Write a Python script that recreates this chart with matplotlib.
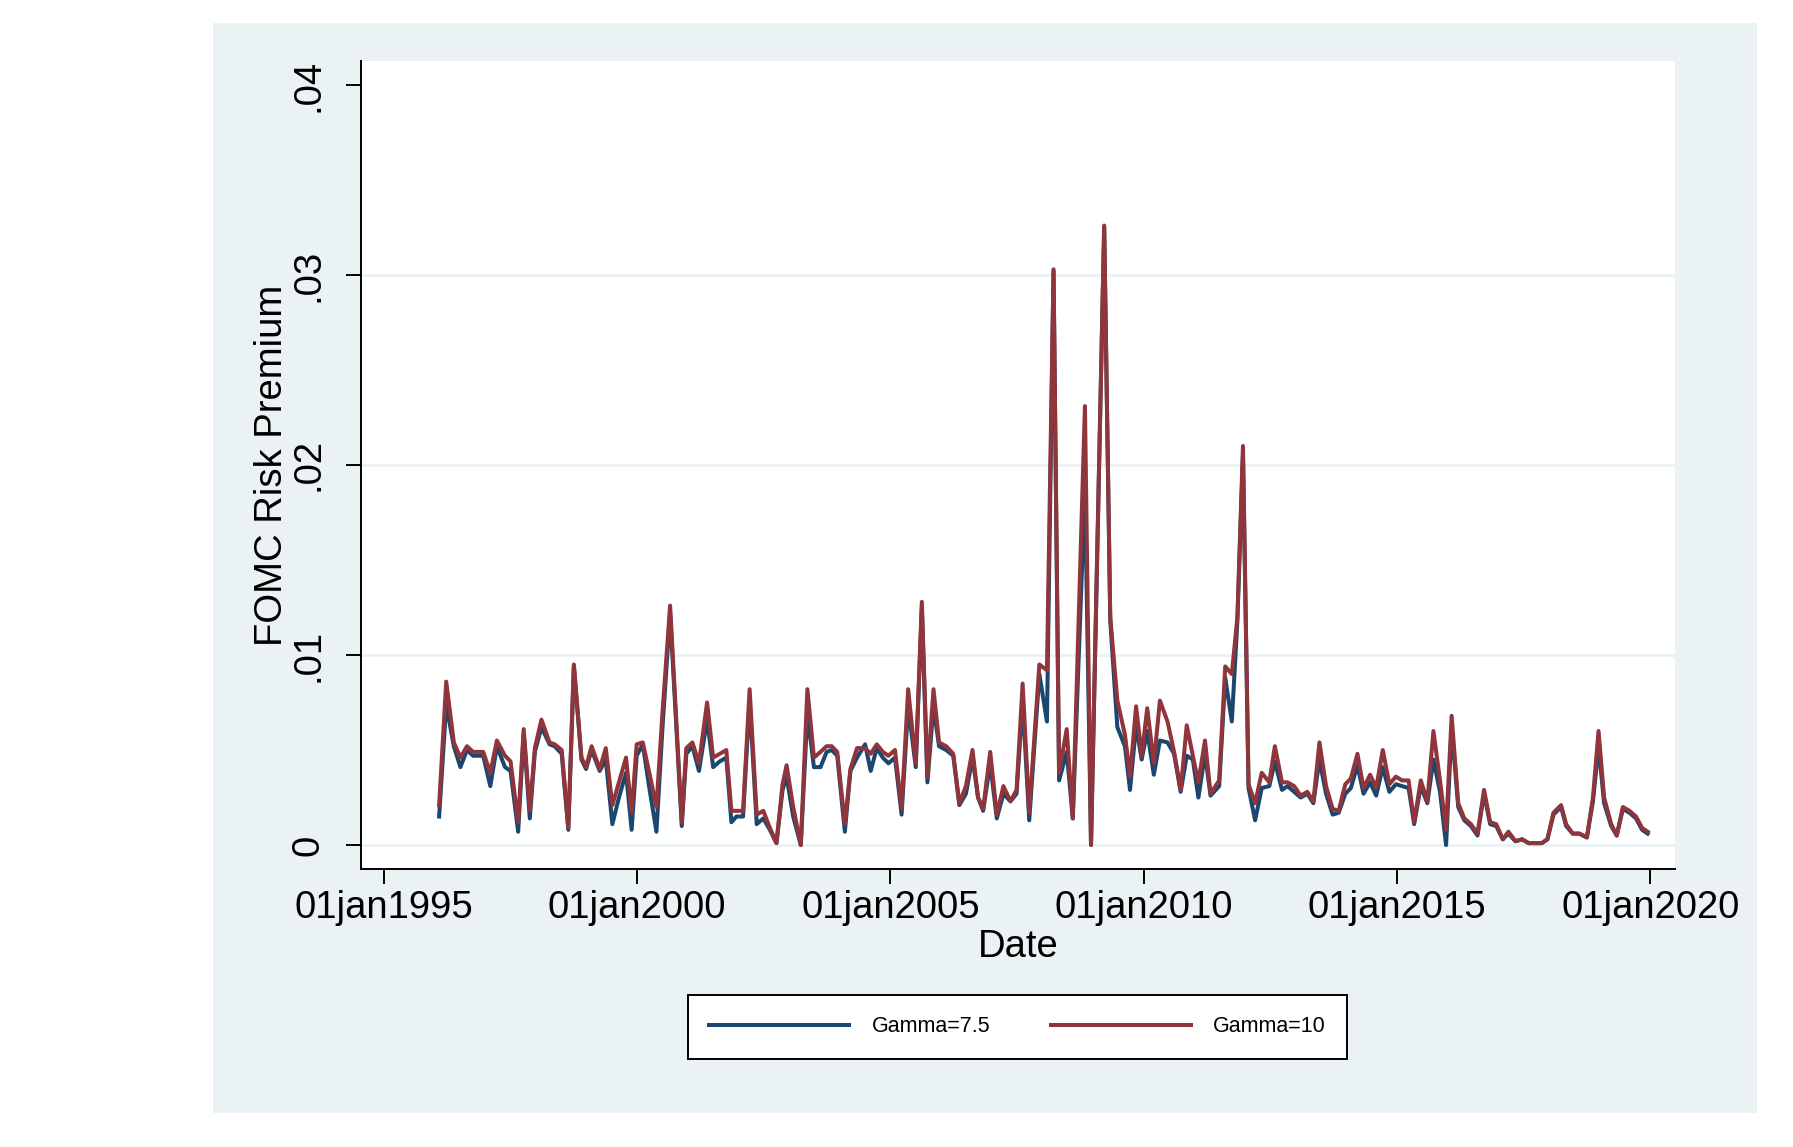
import matplotlib
matplotlib.use("Agg")
import matplotlib.pyplot as plt
from matplotlib.patches import Rectangle

plt.rcParams["font.family"] = ["Liberation Sans", "DejaVu Sans"]

# FOMC meeting dates (decimal years)
dates = [
    1996.09, 1996.23, 1996.38, 1996.51, 1996.64, 1996.76, 1996.84, 1996.96,
    1997.10, 1997.23, 1997.39, 1997.50, 1997.65, 1997.76, 1997.88, 1997.98,
    1998.11, 1998.27, 1998.37, 1998.51, 1998.64, 1998.75, 1998.90, 1998.99,
    1999.10, 1999.26, 1999.38, 1999.51, 1999.64, 1999.78, 1999.89, 1999.99,
    2000.11, 2000.24, 2000.38, 2000.50, 2000.65, 2000.88, 2000.97,
    2001.09, 2001.22, 2001.38, 2001.50, 2001.63, 2001.76, 2001.86, 2001.96,
    2002.09, 2002.22, 2002.36, 2002.49, 2002.62, 2002.75, 2002.87, 2002.95,
    2003.08, 2003.23, 2003.36, 2003.49, 2003.62, 2003.74, 2003.84, 2003.95,
    2004.10, 2004.21, 2004.34, 2004.50, 2004.61, 2004.73, 2004.85, 2004.96,
    2005.09, 2005.22, 2005.35, 2005.50, 2005.62, 2005.73, 2005.85, 2005.96,
    2006.10, 2006.24, 2006.36, 2006.49, 2006.62, 2006.73, 2006.83, 2006.97,
    2007.10, 2007.23, 2007.37, 2007.49, 2007.61, 2007.74, 2007.94,
    2008.09, 2008.22, 2008.33, 2008.48, 2008.60, 2008.84, 2008.96,
    2009.22, 2009.34, 2009.48, 2009.63, 2009.73, 2009.85, 2009.96,
    2010.07, 2010.20, 2010.32, 2010.47, 2010.60, 2010.73, 2010.85, 2010.97,
    2011.08, 2011.21, 2011.32, 2011.49, 2011.61, 2011.74, 2011.85, 2011.96,
    2012.07, 2012.20, 2012.33, 2012.48, 2012.59, 2012.73, 2012.84, 2012.97,
    2013.10, 2013.23, 2013.35, 2013.47, 2013.60, 2013.73, 2013.85, 2013.98,
    2014.09, 2014.22, 2014.34, 2014.47, 2014.59, 2014.72, 2014.85, 2014.98,
    2015.10, 2015.23, 2015.34, 2015.47, 2015.60, 2015.72, 2015.85, 2015.97,
    2016.08, 2016.21, 2016.33, 2016.46, 2016.59, 2016.72, 2016.84, 2016.96,
    2017.09, 2017.20, 2017.34, 2017.47, 2017.60, 2017.73, 2017.86, 2017.97,
    2018.09, 2018.24, 2018.34, 2018.47, 2018.60, 2018.75, 2018.87, 2018.98,
    2019.09, 2019.23, 2019.34, 2019.46, 2019.59, 2019.72, 2019.84, 2019.95,
]

gamma10 = [
    .0021, .0086, .0054, .0046, .0052, .0049, .0049, .0049,
    .0038, .0055, .0047, .0044, .0012, .0061, .0018, .0051,
    .0066, .0054, .0053, .0050, .0009, .0095, .0046, .0041,
    .0052, .0040, .0051, .0021, .0033, .0046, .0017, .0053,
    .0054, .0038, .0020, .0070, .0126, .0012, .0051,
    .0054, .0043, .0075, .0046, .0048, .0050, .0018, .0018,
    .0018, .0082, .0016, .0018, .0009, .0001, .0032, .0042,
    .0020, .0000, .0082, .0046, .0049, .0052, .0052, .0049,
    .0011, .0040, .0051, .0051, .0048, .0053, .0049, .0047,
    .0050, .0019, .0082, .0043, .0128, .0036, .0082, .0054,
    .0052, .0048, .0022, .0031, .0050, .0025, .0019, .0049,
    .0016, .0031, .0023, .0029, .0085, .0017, .0095,
    .0092, .0303, .0038, .0061, .0014, .0231, .0000,
    .0326, .0120, .0076, .0058, .0036, .0073, .0047,
    .0072, .0043, .0076, .0065, .0049, .0029, .0063, .0047,
    .0033, .0055, .0027, .0034, .0094, .0090, .0120, .0210,
    .0032, .0022, .0038, .0033, .0052, .0033, .0033, .0031,
    .0026, .0028, .0023, .0054, .0031, .0019, .0018, .0032,
    .0035, .0048, .0030, .0037, .0030, .0050, .0032, .0036,
    .0034, .0034, .0012, .0034, .0023, .0060, .0034, .0008,
    .0068, .0022, .0014, .0011, .0006, .0029, .0012, .0011,
    .0003, .0007, .0002, .0003, .0001, .0001, .0001, .0003,
    .0017, .0021, .0011, .0006, .0006, .0004, .0025, .0060,
    .0025, .0011, .0005, .0020, .0018, .0015, .0009, .0007,
]

gamma75 = [
    .0015, .0074, .0052, .0041, .0050, .0047, .0047, .0047,
    .0031, .0052, .0041, .0039, .0007, .0059, .0014, .0049,
    .0062, .0053, .0052, .0048, .0008, .0094, .0045, .0040,
    .0050, .0039, .0045, .0011, .0025, .0038, .0008, .0047,
    .0053, .0030, .0007, .0062, .0122, .0010, .0048,
    .0052, .0039, .0066, .0041, .0044, .0046, .0012, .0015,
    .0015, .0076, .0011, .0014, .0008, .0001, .0029, .0036,
    .0015, .0000, .0069, .0041, .0041, .0049, .0050, .0047,
    .0007, .0039, .0046, .0053, .0039, .0051, .0046, .0043,
    .0046, .0016, .0073, .0041, .0125, .0033, .0073, .0052,
    .0050, .0047, .0021, .0027, .0046, .0025, .0018, .0043,
    .0014, .0027, .0023, .0027, .0076, .0013, .0090,
    .0065, .0302, .0034, .0049, .0014, .0188, .0000,
    .0325, .0118, .0062, .0052, .0029, .0063, .0045,
    .0060, .0037, .0055, .0054, .0048, .0028, .0047, .0045,
    .0025, .0048, .0026, .0031, .0088, .0065, .0118, .0205,
    .0030, .0013, .0030, .0031, .0044, .0029, .0031, .0028,
    .0025, .0027, .0022, .0045, .0027, .0016, .0017, .0027,
    .0030, .0042, .0027, .0033, .0026, .0041, .0028, .0032,
    .0031, .0030, .0011, .0031, .0022, .0045, .0028, .0000,
    .0062, .0020, .0013, .0010, .0005, .0027, .0011, .0010,
    .0003, .0006, .0002, .0003, .0001, .0001, .0001, .0003,
    .0016, .0020, .0010, .0006, .0006, .0004, .0023, .0052,
    .0022, .0010, .0005, .0019, .0017, .0014, .0008, .0006,
]

xtick_years = [1995, 2000, 2005, 2010, 2015, 2020]
xtick_labels = ["01jan1995", "01jan2000", "01jan2005", "01jan2010", "01jan2015", "01jan2020"]
yticks = [0, .01, .02, .03, .04]
ytick_labels = ["0", ".01", ".02", ".03", ".04"]

NAVY = "#1A476F"
MAROON = "#90353B"
PANEL = "#EAF2F3"

fig = plt.figure(figsize=(17.93, 11.47), dpi=100)
fig.patch.set_facecolor("white")
fig.patches.append(Rectangle((0.1186, 0.0296), 0.8616, 0.9506, transform=fig.transFigure,
                             facecolor=PANEL, edgecolor="none", zorder=-10))

ax = fig.add_axes([0.2013, 0.2424, 0.7329, 0.7044])
ax.set_zorder(1)
ax.set_facecolor("white")
for y in yticks[:-1]:
    ax.axhline(y, color=PANEL, lw=2.0, zorder=1)

l1, = ax.plot(dates, gamma75, color=NAVY, lw=2.9, zorder=3, label="Gamma=7.5")
l2, = ax.plot(dates, gamma10, color=MAROON, lw=2.9, zorder=4, label="Gamma=10")

ax.set_xlim(1994.546, 2020.49)
ax.set_ylim(-0.00126, 0.04126)
ax.set_xticks(xtick_years)
ax.set_xticklabels(xtick_labels)
ax.set_yticks(yticks)
ax.set_yticklabels(ytick_labels, rotation=90, va="center")

for s in ["top", "right"]:
    ax.spines[s].set_visible(False)
for s in ["left", "bottom"]:
    ax.spines[s].set_linewidth(1.4)
    ax.spines[s].set_color("black")
ax.tick_params(axis="both", length=10.8, width=1.4, color="black", labelsize=27.5)
ax.tick_params(axis="y", pad=14)
ax.tick_params(axis="x", pad=4)

ax.set_xlabel("Date", fontsize=27.5)
ax.xaxis.label.set_va("center")
ax.xaxis.set_label_coords(0.5, -0.0965)
ax.set_ylabel("FOMC Risk Premium", fontsize=27.5)
ax.yaxis.label.set_va("center")
ax.yaxis.set_label_coords(-0.0677, 0.5)

leg = fig.legend(handles=[l1, l2], loc="center", bbox_to_anchor=(0.5675, 0.105), ncol=2,
                 fontsize=15.5, frameon=True, fancybox=False, edgecolor="black",
                 framealpha=1, borderpad=1.0, handlelength=6.5, handletextpad=1.05,
                 columnspacing=2.8)
leg.get_frame().set_linewidth(1.4)

fig.savefig("out.png", dpi=100, facecolor="white")
